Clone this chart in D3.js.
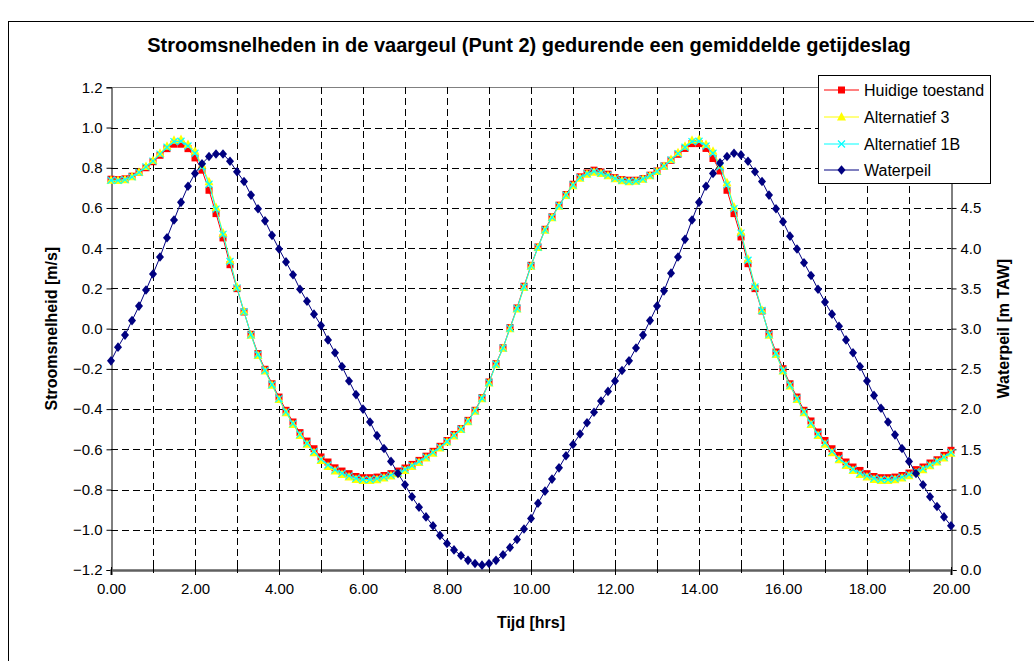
<!DOCTYPE html>
<html><head><meta charset="utf-8">
<script src="https://cdn.jsdelivr.net/npm/d3@7/dist/d3.min.js"></script>
<style>
html,body{margin:0;padding:0;background:#fff;}
svg{display:block;font-family:Arial,"Liberation Sans",sans-serif;}
</style></head>
<body><svg id="chart" width="1034" height="661"></svg>
<script>
// ---- data ----
const title = "Stroomsnelheden in de vaargeul (Punt 2) gedurende een gemiddelde getijdeslag";
const xLabel = "Tijd [hrs]";
const yLeftLabel = "Stroomsnelheid [m/s]";
const yRightLabel = "Waterpeil [m TAW]";
const seriesNames = ["Huidige toestand", "Alternatief 3", "Alternatief 1B", "Waterpeil"];
const timeStepHrs = 1/6; // 10-minute samples, 0 .. 20 h
const xTicks = [0,2,4,6,8,10,12,14,16,18,20];
const yLeftTicks = [-1.2,-1.0,-0.8,-0.6,-0.4,-0.2,0.0,0.2,0.4,0.6,0.8,1.0,1.2];
const yRightTicks = [0.0,0.5,1.0,1.5,2.0,2.5,3.0,3.5,4.0,4.5]; // 5.0-6.0 sit under the legend

const huidige = [0.743,0.741,0.745,0.758,0.778,0.800,0.830,0.862,0.895,0.917,
0.917,0.895,0.849,0.788,0.688,0.572,0.451,0.318,0.199,0.083,
-0.028,-0.124,-0.202,-0.274,-0.340,-0.406,-0.464,-0.517,-0.559,-0.597,
-0.638,-0.663,-0.692,-0.708,-0.721,-0.735,-0.741,-0.741,-0.738,-0.730,
-0.721,-0.708,-0.693,-0.675,-0.655,-0.634,-0.610,-0.585,-0.556,-0.526,
-0.497,-0.456,-0.406,-0.343,-0.265,-0.174,-0.095,0.005,0.103,0.211,
0.315,0.406,0.494,0.556,0.614,0.667,0.718,0.755,0.774,0.788,
0.779,0.768,0.751,0.741,0.738,0.738,0.746,0.763,0.784,0.809,
0.837,0.867,0.896,0.920,0.920,0.896,0.846,0.784,0.688,0.572,
0.456,0.323,0.199,0.088,-0.025,-0.116,-0.199,-0.274,-0.340,-0.406,
-0.459,-0.514,-0.556,-0.597,-0.630,-0.663,-0.688,-0.705,-0.721,-0.735,
-0.741,-0.741,-0.738,-0.730,-0.718,-0.701,-0.688,-0.668,-0.652,-0.630,-0.605];

const alternatief3 = [0.738,0.737,0.740,0.755,0.778,0.806,0.836,0.872,0.907,0.937,
0.940,0.915,0.882,0.813,0.730,0.602,0.476,0.340,0.207,0.086,
-0.033,-0.133,-0.211,-0.282,-0.352,-0.418,-0.476,-0.531,-0.575,-0.617,
-0.655,-0.685,-0.708,-0.725,-0.738,-0.750,-0.755,-0.755,-0.751,-0.743,
-0.733,-0.721,-0.705,-0.685,-0.665,-0.643,-0.619,-0.594,-0.564,-0.534,
-0.502,-0.463,-0.411,-0.348,-0.270,-0.179,-0.098,0.000,0.098,0.204,
0.310,0.403,0.489,0.551,0.609,0.662,0.711,0.748,0.768,0.778,
0.771,0.760,0.745,0.735,0.731,0.733,0.743,0.760,0.781,0.808,
0.841,0.874,0.907,0.937,0.940,0.915,0.882,0.813,0.726,0.605,
0.481,0.345,0.211,0.091,-0.033,-0.129,-0.211,-0.285,-0.352,-0.418,
-0.476,-0.531,-0.575,-0.617,-0.652,-0.680,-0.705,-0.725,-0.738,-0.750,
-0.755,-0.755,-0.751,-0.743,-0.731,-0.716,-0.701,-0.682,-0.663,-0.643,-0.619];

const alternatief1B = [0.738,0.737,0.741,0.755,0.777,0.804,0.833,0.868,0.902,0.930,
0.932,0.908,0.872,0.805,0.718,0.594,0.469,0.334,0.203,0.085,
-0.031,-0.130,-0.208,-0.279,-0.348,-0.414,-0.472,-0.526,-0.570,-0.611,
-0.649,-0.678,-0.702,-0.719,-0.732,-0.744,-0.750,-0.750,-0.746,-0.738,
-0.728,-0.716,-0.700,-0.681,-0.661,-0.639,-0.615,-0.590,-0.561,-0.531,
-0.500,-0.460,-0.409,-0.346,-0.268,-0.177,-0.097,0.002,0.100,0.207,
0.312,0.404,0.491,0.553,0.611,0.664,0.714,0.751,0.771,0.782,
0.774,0.763,0.747,0.737,0.733,0.734,0.744,0.761,0.782,0.808,
0.839,0.870,0.902,0.930,0.932,0.908,0.872,0.805,0.715,0.597,
0.475,0.340,0.207,0.090,-0.030,-0.125,-0.207,-0.281,-0.348,-0.414,
-0.470,-0.525,-0.568,-0.610,-0.645,-0.674,-0.699,-0.718,-0.732,-0.744,
-0.750,-0.750,-0.746,-0.738,-0.726,-0.711,-0.696,-0.677,-0.659,-0.639,-0.615];

const waterpeil = [2.60,2.77,2.92,3.10,3.28,3.48,3.68,3.89,4.13,4.35,
4.57,4.77,4.93,5.05,5.14,5.17,5.17,5.08,4.95,4.83,
4.66,4.49,4.34,4.16,3.99,3.83,3.67,3.49,3.34,3.18,
3.04,2.86,2.70,2.53,2.35,2.18,2.00,1.84,1.67,1.51,
1.35,1.20,1.06,0.91,0.78,0.66,0.55,0.43,0.33,0.25,
0.18,0.12,0.08,0.06,0.08,0.12,0.19,0.28,0.38,0.51,
0.64,0.83,0.98,1.13,1.27,1.42,1.56,1.69,1.83,1.96,
2.10,2.22,2.35,2.48,2.60,2.76,2.92,3.10,3.28,3.47,
3.69,3.89,4.11,4.35,4.57,4.77,4.93,5.06,5.14,5.18,
5.16,5.08,4.95,4.83,4.66,4.49,4.33,4.15,3.99,3.82,
3.66,3.49,3.33,3.18,3.03,2.86,2.70,2.53,2.35,2.17,
2.01,1.84,1.68,1.51,1.35,1.20,1.06,0.91,0.79,0.66,0.55];

// ---- layout ----
const svg = d3.select("#chart");
const L = 111, R = 951, T = 87.3, B = 570;
const x = d3.scaleLinear().domain([0,20]).range([L,R]);
const yL = d3.scaleLinear().domain([-1.2,1.2]).range([B,T]);
const yR = d3.scaleLinear().domain([0,6]).range([B,T]);
const px = v => Math.round(v)+0.5;

// outer frame
svg.append("rect").attr("x",8.5).attr("y",21.5).attr("width",1040).attr("height",660)
  .attr("fill","none").attr("stroke","#000").attr("stroke-width",1);

// title
svg.append("text").attr("x",529).attr("y",52).attr("text-anchor","middle")
  .attr("font-size",20).attr("font-weight","bold").text(title);

// gridlines
const grid = svg.append("g").attr("shape-rendering","crispEdges");
grid.selectAll("line.h").data(yLeftTicks.filter(d=>d>-1.1)).join("line")
  .attr("x1",L).attr("x2",R).attr("y1",d=>px(yL(d))).attr("y2",d=>px(yL(d)))
  .attr("stroke",d=>d>1.1?"#808080":"#000").attr("stroke-width",1)
  .attr("stroke-dasharray",d=>d>1.1?null:"7,4");
grid.selectAll("line.v").data(d3.range(1,20)).join("line")
  .attr("y1",T).attr("y2",B).attr("x1",d=>px(x(d))).attr("x2",d=>px(x(d)))
  .attr("stroke","#000").attr("stroke-width",1).attr("stroke-dasharray","7,4");

// left axis
const axL = svg.append("g").attr("transform",`translate(${px(L)},0)`)
  .call(d3.axisLeft(yL).tickValues(yLeftTicks).tickFormat(d3.format(".1f")).tickSize(5).tickPadding(4));
axL.select(".domain").attr("stroke","#000");
axL.selectAll("text").attr("font-size",15).attr("font-family","Arial,'Liberation Sans',sans-serif").attr("fill","#000");
axL.selectAll(".tick line").attr("stroke","#000");

// right axis
const axR = svg.append("g").attr("transform",`translate(${px(R)},0)`)
  .call(d3.axisRight(yR).tickValues(yRightTicks).tickFormat(d3.format(".1f")).tickSize(5).tickPadding(4));
axR.select(".domain").attr("stroke","#000");
axR.selectAll("text").attr("font-size",15).attr("font-family","Arial,'Liberation Sans',sans-serif").attr("fill","#000");

// bottom axis
const axB = svg.append("g").attr("transform",`translate(0,${B})`)
  .call(d3.axisBottom(x).tickValues(xTicks).tickFormat(d3.format(".2f")).tickSize(5).tickPadding(8));
axB.select(".domain").attr("stroke","#606060").attr("stroke-width",2.5);
axB.selectAll(".tick line").attr("stroke","#000").attr("y1",-3);
axB.selectAll("text").attr("font-size",15).attr("font-family","Arial,'Liberation Sans',sans-serif").attr("fill","#000");
svg.append("g").selectAll("line").data(d3.range(1,20,2)).join("line")
  .attr("x1",d=>px(x(d))).attr("x2",d=>px(x(d))).attr("y1",B-3).attr("y2",B+3)
  .attr("stroke","#000");

// axis titles
svg.append("text").attr("x",x(10)).attr("y",628).attr("text-anchor","middle")
  .attr("font-size",16).attr("font-weight","bold").text(xLabel);
svg.append("text").attr("transform",`translate(57,${yL(0)}) rotate(-90)`).attr("text-anchor","middle")
  .attr("font-size",16).attr("font-weight","bold").text(yLeftLabel);
svg.append("text").attr("transform",`translate(1009,${yL(0)}) rotate(-90)`).attr("text-anchor","middle")
  .attr("font-size",16).attr("font-weight","bold").text(yRightLabel);

// markers
const sq = "M-3.5,-3.5H3.5V3.5H-3.5Z";
const tri = "M0,-5L4.5,3.5L-4.5,3.5Z";
const cross = "M-3.5,-3.5L3.5,3.5M3.5,-3.5L-3.5,3.5";
const dia = "M0,-4.8L4,0L0,4.8L-4,0Z";

const series = [
  {name:seriesNames[0], values:huidige, y:yL, color:"#ff0000", mark:sq, fill:"#ff0000", stroke:"none"},
  {name:seriesNames[1], values:alternatief3, y:yL, color:"#ffff00", mark:tri, fill:"#ffff00", stroke:"none"},
  {name:seriesNames[2], values:alternatief1B, y:yL, color:"#00ffff", mark:cross, fill:"none", stroke:"#00ffff"},
  {name:seriesNames[3], values:waterpeil, y:yR, color:"#000080", mark:dia, fill:"#000080", stroke:"none"}
];

const plot = svg.append("g");
series.forEach(s=>{
  const line = d3.line().x((d,i)=>x(i*timeStepHrs)).y(d=>s.y(d));
  const g = plot.append("g");
  g.append("path").attr("d",line(s.values)).attr("fill","none").attr("stroke",s.color).attr("stroke-width",1);
  g.selectAll("path.m").data(s.values).join("path").attr("class","m")
    .attr("transform",(d,i)=>`translate(${x(i*timeStepHrs)},${s.y(d)})`)
    .attr("d",s.mark).attr("fill",s.fill).attr("stroke",s.stroke).attr("stroke-width",1.2);
});

// legend
const lg = svg.append("g");
lg.append("rect").attr("x",818.5).attr("y",75.5).attr("width",172).attr("height",108)
  .attr("fill","#fff").attr("stroke","#000").attr("stroke-width",1);
const ly = [90,117,144,170];
series.forEach((s,i)=>{
  const g = lg.append("g").attr("transform",`translate(0,${ly[i]})`);
  g.append("line").attr("x1",824).attr("x2",859).attr("y1",0).attr("y2",0).attr("stroke",s.color).attr("stroke-width",1);
  g.append("path").attr("transform","translate(841.5,0)").attr("d",s.mark).attr("fill",s.fill).attr("stroke",s.stroke).attr("stroke-width",1.2);
  g.append("text").attr("x",864).attr("y",5.5).attr("font-size",16).text(s.name);
});
</script>
</body></html>
